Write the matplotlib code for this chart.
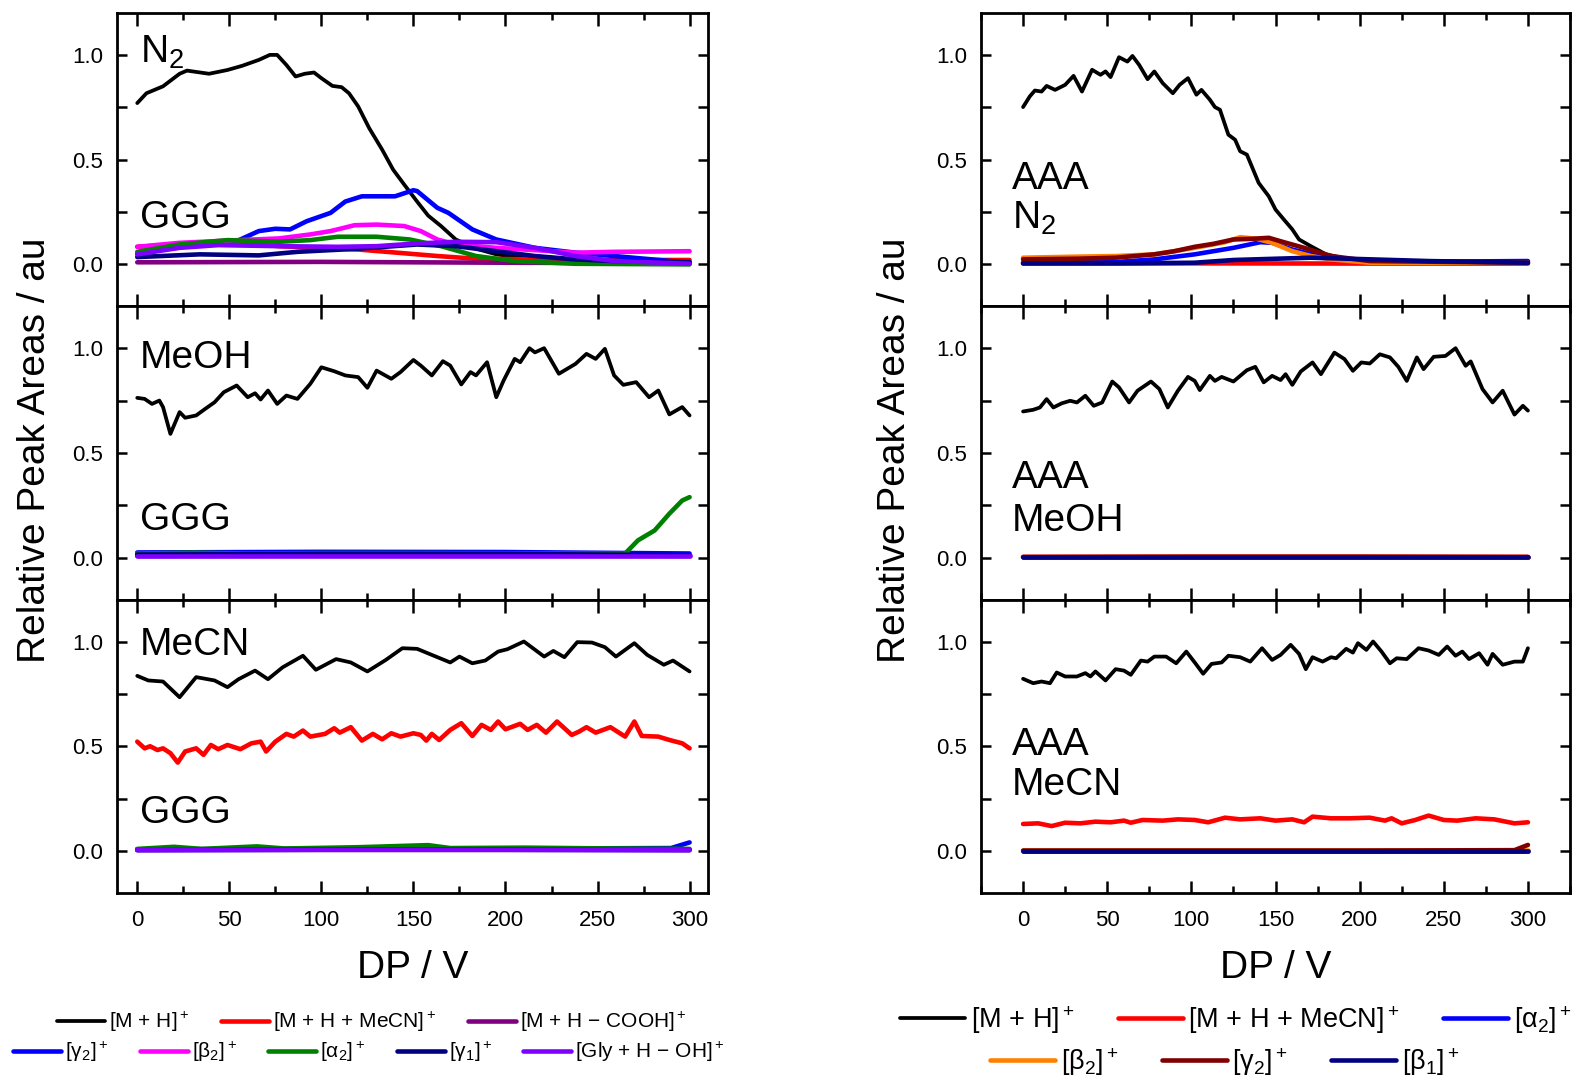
import numpy as np
import matplotlib
matplotlib.use("Agg")
import matplotlib.pyplot as plt
from matplotlib.ticker import MultipleLocator, FormatStrFormatter

plt.rcParams['font.family'] = ['Liberation Sans', 'DejaVu Sans']
plt.rcParams['mathtext.fontset'] = 'custom'
plt.rcParams['mathtext.rm'] = 'Liberation Sans'
plt.rcParams['mathtext.it'] = 'Liberation Sans:italic'
plt.rcParams['mathtext.bf'] = 'Liberation Sans:bold'

# ---------------- GGG, N2 ----------------
ggg_n2_mh_x = [0, 5, 14, 23, 27, 39, 49, 57, 66, 72, 76, 81, 86, 91, 96, 100, 106, 111, 115, 120,
               126, 133, 139, 145, 152, 158, 165, 173, 184, 195, 216, 238, 259, 300]
ggg_n2_mh_y = [0.77, 0.817, 0.85, 0.91, 0.925, 0.91, 0.928, 0.948, 0.976, 1.0, 1.0, 0.952, 0.897, 0.91,
               0.916, 0.889, 0.852, 0.846, 0.817, 0.754, 0.65, 0.548, 0.452, 0.381, 0.30, 0.233, 0.183,
               0.119, 0.075, 0.048, 0.024, 0.016, 0.011, 0.008]
ggg_n2_mecn_x = [0, 23, 55, 77, 98, 120, 141, 163, 184, 216, 259, 300]
ggg_n2_mecn_y = [0.084, 0.095, 0.103, 0.087, 0.079, 0.071, 0.056, 0.04, 0.027, 0.024, 0.021, 0.021]
ggg_n2_cooh_x = [0, 100, 200, 300]
ggg_n2_cooh_y = [0.01, 0.012, 0.008, 0.005]
ggg_n2_y2_x = [0, 20, 40, 55, 66, 75, 83, 92, 105, 113, 122, 130, 140, 150, 152, 163, 169, 182, 195,
               216, 238, 259, 300]
ggg_n2_y2_y = [0.05, 0.08, 0.10, 0.115, 0.159, 0.17, 0.167, 0.206, 0.246, 0.30, 0.325, 0.325, 0.325,
               0.354, 0.35, 0.27, 0.246, 0.167, 0.119, 0.079, 0.056, 0.04, 0.008]
ggg_n2_b2_x = [0, 23, 55, 77, 94, 105, 118, 130, 145, 154, 163, 173, 195, 216, 238, 259, 300]
ggg_n2_b2_y = [0.084, 0.103, 0.116, 0.124, 0.143, 0.159, 0.187, 0.19, 0.183, 0.159, 0.119, 0.095,
               0.079, 0.068, 0.056, 0.06, 0.063]
ggg_n2_a2_x = [0, 23, 49, 77, 94, 109, 130, 148, 165, 184, 205, 238, 300]
ggg_n2_a2_y = [0.06, 0.095, 0.116, 0.108, 0.116, 0.132, 0.132, 0.119, 0.087, 0.04, 0.016, 0.003, 0.0]
ggg_n2_y1_x = [0, 34, 66, 87, 120, 152, 173, 195, 216, 238, 259, 300]
ggg_n2_y1_y = [0.035, 0.048, 0.043, 0.06, 0.075, 0.095, 0.087, 0.063, 0.04, 0.024, 0.016, 0.011]
ggg_n2_gly_x = [0, 23, 44, 77, 109, 130, 152, 173, 195, 216, 238, 259, 300]
ggg_n2_gly_y = [0.048, 0.079, 0.092, 0.087, 0.084, 0.087, 0.10, 0.108, 0.106, 0.079, 0.04, 0.016, 0.003]

# ---------------- GGG, MeOH ----------------
ggg_meoh_mh_x = [0, 4, 8, 12, 14, 18, 23, 26, 32, 37, 42, 47, 54, 60, 64, 67, 71, 76, 81, 87, 94, 100,
                 107, 113, 120, 125, 130, 138, 143, 150, 154, 160, 166, 170, 176, 181, 184, 190, 195,
                 199, 205, 208, 213, 216, 221, 229, 238, 244, 249, 254, 259, 264, 271, 278, 283, 289,
                 296, 300]
ggg_meoh_mh_y = [0.763, 0.758, 0.734, 0.75, 0.719, 0.591, 0.695, 0.668, 0.679, 0.711, 0.742, 0.79,
                 0.822, 0.766, 0.785, 0.755, 0.798, 0.734, 0.774, 0.758, 0.83, 0.909, 0.89, 0.87,
                 0.862, 0.811, 0.893, 0.854, 0.886, 0.944, 0.917, 0.87, 0.938, 0.917, 0.827, 0.886,
                 0.87, 0.933, 0.766, 0.846, 0.949, 0.933, 1.0, 0.98, 1.0, 0.878, 0.925, 0.973, 0.949,
                 0.997, 0.87, 0.825, 0.838, 0.766, 0.798, 0.684, 0.719, 0.679]
ggg_meoh_mecn_x = [0, 100, 200, 300]
ggg_meoh_mecn_y = [0.012, 0.014, 0.012, 0.01]
ggg_meoh_cooh_x = [0, 100, 200, 300]
ggg_meoh_cooh_y = [0.008, 0.01, 0.01, 0.008]
ggg_meoh_y2_x = [0, 100, 200, 300]
ggg_meoh_y2_y = [0.025, 0.028, 0.027, 0.02]
ggg_meoh_b2_x = [0, 100, 200, 300]
ggg_meoh_b2_y = [0.012, 0.012, 0.012, 0.012]
ggg_meoh_a2_x = [0, 30, 60, 100, 150, 200, 250, 265, 272, 281, 289, 296, 300]
ggg_meoh_a2_y = [0.02, 0.024, 0.02, 0.022, 0.022, 0.021, 0.02, 0.02, 0.083, 0.13, 0.21, 0.273, 0.289]
ggg_meoh_y1_x = [0, 100, 200, 300]
ggg_meoh_y1_y = [0.015, 0.018, 0.018, 0.012]
ggg_meoh_gly_x = [0, 100, 200, 300]
ggg_meoh_gly_y = [0.006, 0.006, 0.006, 0.006]

# ---------------- GGG, MeCN ----------------
ggg_mecn_mh_x = [0, 6, 14, 23, 32, 42, 49, 55, 64, 71, 79, 90, 97, 108, 116, 125, 135, 144, 152, 160,
                 170, 175, 182, 189, 196, 201, 210, 221, 226, 232, 239, 247, 254, 260, 270, 277, 286,
                 291, 300]
ggg_mecn_mh_y = [0.836, 0.814, 0.809, 0.734, 0.83, 0.814, 0.782, 0.82, 0.861, 0.82, 0.877, 0.932,
                 0.865, 0.916, 0.9, 0.857, 0.912, 0.968, 0.965, 0.936, 0.9, 0.928, 0.896, 0.909, 0.952,
                 0.963, 1.0, 0.928, 0.955, 0.925, 0.997, 0.995, 0.973, 0.928, 0.992, 0.936, 0.889,
                 0.909, 0.857]
ggg_mecn_mecn_x = [0, 4, 7, 11, 14, 18, 22, 26, 32, 36, 40, 44, 49, 56, 62, 67, 70, 75, 81, 85, 90, 94,
                   102, 107, 110, 116, 122, 128, 133, 138, 143, 150, 154, 157, 160, 164, 170, 176, 182,
                   187, 192, 196, 200, 208, 212, 217, 222, 228, 236, 240, 244, 249, 257, 265, 270, 274,
                   283, 289, 296, 300]
ggg_mecn_mecn_y = [0.522, 0.49, 0.5, 0.482, 0.49, 0.467, 0.422, 0.475, 0.49, 0.459, 0.506, 0.486,
                   0.506, 0.486, 0.514, 0.522, 0.475, 0.522, 0.559, 0.546, 0.575, 0.546, 0.559, 0.586,
                   0.565, 0.591, 0.527, 0.559, 0.533, 0.562, 0.546, 0.562, 0.554, 0.527, 0.559, 0.53,
                   0.578, 0.61, 0.549, 0.602, 0.578, 0.618, 0.581, 0.607, 0.578, 0.602, 0.565, 0.618,
                   0.554, 0.57, 0.591, 0.565, 0.591, 0.546, 0.618, 0.549, 0.546, 0.53, 0.514, 0.49]
ggg_mecn_cooh_x = [0, 100, 200, 300]
ggg_mecn_cooh_y = [0.008, 0.01, 0.01, 0.008]
ggg_mecn_y2_x = [0, 150, 290, 300]
ggg_mecn_y2_y = [0.008, 0.01, 0.014, 0.041]
ggg_mecn_b2_x = [0, 100, 200, 300]
ggg_mecn_b2_y = [0.006, 0.008, 0.008, 0.006]
ggg_mecn_a2_x = [0, 20, 35, 65, 80, 120, 158, 170, 210, 260, 300]
ggg_mecn_a2_y = [0.01, 0.02, 0.01, 0.022, 0.012, 0.018, 0.028, 0.014, 0.016, 0.012, 0.01]
ggg_mecn_y1_x = [0, 100, 200, 300]
ggg_mecn_y1_y = [0.004, 0.006, 0.006, 0.004]
ggg_mecn_gly_x = [0, 100, 200, 300]
ggg_mecn_gly_y = [0.004, 0.005, 0.005, 0.004]

# ---------------- AAA, N2 ----------------
aaa_n2_mh_x = [0, 4, 7, 11, 14, 19, 25, 30, 35, 41, 46, 49, 52, 57, 62, 65, 69, 74, 78, 83, 89, 93,
               98, 103, 106, 111, 114, 117, 122, 126, 129, 133, 140, 146, 150, 155, 160, 164, 171,
               180, 194, 218, 300]
aaa_n2_mh_y = [0.751, 0.802, 0.83, 0.825, 0.852, 0.833, 0.857, 0.9, 0.825, 0.929, 0.905, 0.921,
               0.894, 0.989, 0.968, 0.995, 0.952, 0.884, 0.921, 0.865, 0.817, 0.857, 0.889, 0.81,
               0.833, 0.786, 0.751, 0.738, 0.619, 0.595, 0.54, 0.524, 0.389, 0.325, 0.262, 0.214,
               0.167, 0.119, 0.087, 0.048, 0.024, 0.013, 0.008]
aaa_n2_mecn_x = [0, 100, 200, 300]
aaa_n2_mecn_y = [0.004, 0.005, 0.004, 0.004]
aaa_n2_a2_x = [0, 55, 78, 102, 125, 141, 148, 160, 176, 194, 241, 300]
aaa_n2_a2_y = [0.008, 0.011, 0.024, 0.048, 0.079, 0.106, 0.103, 0.071, 0.04, 0.021, 0.013, 0.016]
aaa_n2_b2_x = [0, 32, 55, 78, 102, 120, 129, 139, 148, 160, 171, 183, 206, 300]
aaa_n2_b2_y = [0.032, 0.037, 0.04, 0.048, 0.079, 0.106, 0.13, 0.122, 0.103, 0.063, 0.04, 0.024,
               0.008, 0.008]
aaa_n2_y2_x = [0, 32, 55, 78, 90, 102, 113, 125, 136, 146, 155, 167, 183, 206, 300]
aaa_n2_y2_y = [0.024, 0.027, 0.032, 0.048, 0.063, 0.084, 0.098, 0.119, 0.122, 0.127, 0.106, 0.079,
               0.04, 0.016, 0.008]
aaa_n2_b1_x = [0, 55, 102, 125, 171, 194, 241, 300]
aaa_n2_b1_y = [0.005, 0.005, 0.008, 0.021, 0.032, 0.027, 0.016, 0.008]

# ---------------- AAA, MeOH ----------------
aaa_meoh_mh_x = [0, 6, 10, 14, 18, 23, 28, 32, 37, 42, 47, 53, 57, 63, 68, 76, 81, 86, 92, 98, 102,
                 105, 111, 114, 118, 125, 133, 138, 143, 148, 153, 156, 160, 165, 172, 177, 185, 191,
                 196, 201, 206, 212, 218, 223, 228, 234, 238, 244, 251, 257, 263, 266, 273, 279, 285,
                 292, 297, 300]
aaa_meoh_mh_y = [0.698, 0.706, 0.717, 0.757, 0.717, 0.737, 0.749, 0.741, 0.773, 0.725, 0.741, 0.841,
                 0.813, 0.741, 0.797, 0.841, 0.805, 0.717, 0.797, 0.863, 0.844, 0.8, 0.868, 0.844,
                 0.863, 0.841, 0.895, 0.911, 0.837, 0.868, 0.848, 0.876, 0.825, 0.889, 0.932, 0.876,
                 0.979, 0.948, 0.892, 0.932, 0.927, 0.971, 0.956, 0.911, 0.844, 0.956, 0.9, 0.959,
                 0.963, 1.0, 0.916, 0.937, 0.805, 0.741, 0.797, 0.683, 0.725, 0.702]
aaa_meoh_mecn_x = [0, 100, 200, 300]
aaa_meoh_mecn_y = [0.004, 0.005, 0.005, 0.004]
aaa_meoh_a2_x = [0, 100, 200, 300]
aaa_meoh_a2_y = [0.002, 0.002, 0.002, 0.002]
aaa_meoh_b2_x = [0, 100, 200, 300]
aaa_meoh_b2_y = [0.003, 0.003, 0.003, 0.003]
aaa_meoh_y2_x = [0, 100, 200, 300]
aaa_meoh_y2_y = [0.003, 0.004, 0.004, 0.003]
aaa_meoh_b1_x = [0, 100, 200, 300]
aaa_meoh_b1_y = [0.001, 0.001, 0.001, 0.001]

# ---------------- AAA, MeCN ----------------
aaa_mecn_mh_x = [0, 6, 11, 16, 20, 25, 32, 37, 40, 43, 49, 55, 60, 64, 70, 74, 78, 85, 91, 97, 102,
                 107, 112, 118, 122, 129, 135, 142, 148, 153, 159, 164, 168, 172, 178, 183, 186, 192,
                 196, 199, 204, 208, 213, 218, 222, 228, 235, 241, 247, 252, 257, 261, 265, 271, 276,
                 279, 285, 292, 297, 300]
aaa_mecn_mh_y = [0.822, 0.801, 0.809, 0.801, 0.852, 0.833, 0.833, 0.849, 0.833, 0.857, 0.814, 0.868,
                 0.861, 0.841, 0.909, 0.904, 0.928, 0.928, 0.896, 0.952, 0.9, 0.846, 0.893, 0.9,
                 0.932, 0.925, 0.904, 0.968, 0.912, 0.936, 0.984, 0.941, 0.868, 0.925, 0.904, 0.925,
                 0.92, 0.965, 0.947, 0.992, 0.96, 1.0, 0.952, 0.896, 0.92, 0.916, 0.968, 0.957, 0.936,
                 0.976, 0.932, 0.952, 0.916, 0.944, 0.889, 0.941, 0.889, 0.904, 0.904, 0.968]
aaa_mecn_mecn_x = [0, 9, 17, 25, 34, 43, 52, 60, 64, 71, 83, 92, 102, 110, 120, 129, 141, 150, 160,
                   167, 172, 183, 194, 206, 215, 219, 225, 233, 241, 250, 258, 269, 280, 292, 300]
aaa_mecn_mecn_y = [0.129, 0.132, 0.119, 0.135, 0.132, 0.14, 0.137, 0.145, 0.135, 0.148, 0.145, 0.151,
                   0.148, 0.137, 0.159, 0.151, 0.156, 0.145, 0.151, 0.137, 0.164, 0.156, 0.156, 0.159,
                   0.145, 0.156, 0.132, 0.148, 0.169, 0.148, 0.145, 0.156, 0.151, 0.132, 0.137]
aaa_mecn_a2_x = [0, 100, 200, 300]
aaa_mecn_a2_y = [0.001, 0.001, 0.001, 0.001]
aaa_mecn_b2_x = [0, 100, 200, 300]
aaa_mecn_b2_y = [0.003, 0.003, 0.003, 0.003]
aaa_mecn_y2_x = [0, 100, 200, 292, 300]
aaa_mecn_y2_y = [0.002, 0.002, 0.002, 0.004, 0.029]
aaa_mecn_b1_x = [0, 100, 200, 300]
aaa_mecn_b1_y = [0.0, 0.0, 0.0, 0.0]

# series styles (label, colour, linewidth)
ggg_styles = [
    ("[M + H]$^+$", "#000000", 2.7),
    ("[M + H + MeCN]$^+$", "#ff0000", 3.3),
    ("[M + H \u2212 COOH]$^+$", "#800080", 3.3),
    ("[\u03b3$_2$]$^+$", "#0000ff", 3.3),
    ("[\u03b2$_2$]$^+$", "#ff00ff", 3.3),
    ("[\u03b1$_2$]$^+$", "#008000", 3.3),
    ("[\u03b3$_1$]$^+$", "#000080", 3.3),
    ("[Gly + H \u2212 OH]$^+$", "#8000ff", 3.3),
]
aaa_styles = [
    ("[M + H]$^+$", "#000000", 2.7),
    ("[M + H + MeCN]$^+$", "#ff0000", 3.3),
    ("[\u03b1$_2$]$^+$", "#0000ff", 3.3),
    ("[\u03b2$_2$]$^+$", "#ff8000", 3.3),
    ("[\u03b3$_2$]$^+$", "#800000", 3.3),
    ("[\u03b2$_1$]$^+$", "#000080", 3.3),
]

ggg_panels = [
    [(ggg_n2_mh_x, ggg_n2_mh_y), (ggg_n2_mecn_x, ggg_n2_mecn_y), (ggg_n2_cooh_x, ggg_n2_cooh_y),
     (ggg_n2_y2_x, ggg_n2_y2_y), (ggg_n2_b2_x, ggg_n2_b2_y), (ggg_n2_a2_x, ggg_n2_a2_y),
     (ggg_n2_y1_x, ggg_n2_y1_y), (ggg_n2_gly_x, ggg_n2_gly_y)],
    [(ggg_meoh_mh_x, ggg_meoh_mh_y), (ggg_meoh_mecn_x, ggg_meoh_mecn_y), (ggg_meoh_cooh_x, ggg_meoh_cooh_y),
     (ggg_meoh_y2_x, ggg_meoh_y2_y), (ggg_meoh_b2_x, ggg_meoh_b2_y), (ggg_meoh_a2_x, ggg_meoh_a2_y),
     (ggg_meoh_y1_x, ggg_meoh_y1_y), (ggg_meoh_gly_x, ggg_meoh_gly_y)],
    [(ggg_mecn_mh_x, ggg_mecn_mh_y), (ggg_mecn_mecn_x, ggg_mecn_mecn_y), (ggg_mecn_cooh_x, ggg_mecn_cooh_y),
     (ggg_mecn_y2_x, ggg_mecn_y2_y), (ggg_mecn_b2_x, ggg_mecn_b2_y), (ggg_mecn_a2_x, ggg_mecn_a2_y),
     (ggg_mecn_y1_x, ggg_mecn_y1_y), (ggg_mecn_gly_x, ggg_mecn_gly_y)],
]
aaa_panels = [
    [(aaa_n2_mh_x, aaa_n2_mh_y), (aaa_n2_mecn_x, aaa_n2_mecn_y), (aaa_n2_a2_x, aaa_n2_a2_y),
     (aaa_n2_b2_x, aaa_n2_b2_y), (aaa_n2_y2_x, aaa_n2_y2_y), (aaa_n2_b1_x, aaa_n2_b1_y)],
    [(aaa_meoh_mh_x, aaa_meoh_mh_y), (aaa_meoh_mecn_x, aaa_meoh_mecn_y), (aaa_meoh_a2_x, aaa_meoh_a2_y),
     (aaa_meoh_b2_x, aaa_meoh_b2_y), (aaa_meoh_y2_x, aaa_meoh_y2_y), (aaa_meoh_b1_x, aaa_meoh_b1_y)],
    [(aaa_mecn_mh_x, aaa_mecn_mh_y), (aaa_mecn_mecn_x, aaa_mecn_mecn_y), (aaa_mecn_a2_x, aaa_mecn_a2_y),
     (aaa_mecn_b2_x, aaa_mecn_b2_y), (aaa_mecn_y2_x, aaa_mecn_y2_y), (aaa_mecn_b1_x, aaa_mecn_b1_y)],
]

W, H = 1573, 1086
fig = plt.figure(figsize=(W / 100, H / 100), dpi=100)

col_left = [117 / W, 981 / W]
col_width = [591 / W, 589 / W]
panel_h = 293.3 / H
top = 1 - 13 / H
xlims = [(-11, 310), (-25, 325)]

label_fs = 28


def style_axis(ax, xlim, bottom):
    ax.set_xlim(*xlim)
    ax.set_ylim(-0.2, 1.2)
    ax.xaxis.set_major_locator(MultipleLocator(50))
    ax.xaxis.set_minor_locator(MultipleLocator(25))
    ax.yaxis.set_major_locator(MultipleLocator(0.5))
    ax.yaxis.set_minor_locator(MultipleLocator(0.25))
    ax.yaxis.set_major_formatter(FormatStrFormatter('%.1f'))
    ax.tick_params(axis='both', which='both', direction='in', top=True, right=True, width=1.8,
                   labelsize=16)
    ax.tick_params(axis='x', which='major', length=9, pad=12)
    ax.tick_params(axis='x', which='minor', length=5)
    ax.tick_params(axis='y', which='both', length=7, pad=10)
    for sp in ax.spines.values():
        sp.set_linewidth(2.0)
    if not bottom:
        ax.tick_params(axis='x', labelbottom=False)


all_axes = []
for col, (panels, styles) in enumerate([(ggg_panels, ggg_styles), (aaa_panels, aaa_styles)]):
    col_axes = []
    for row, series in enumerate(panels):
        ax = fig.add_axes([col_left[col], top - (row + 1) * panel_h, col_width[col], panel_h])
        style_axis(ax, xlims[col], row == 2)
        for (x, y), (lab, c, lw) in zip(series, styles):
            ax.plot(x, y, color=c, lw=lw, label=lab, solid_capstyle='round',
                    solid_joinstyle='round')
        col_axes.append(ax)
    all_axes.append(col_axes)

# panel annotations
g = all_axes[0]
g[0].text(0.039, 0.83, "N$_2$", transform=g[0].transAxes, fontsize=label_fs, va='baseline')
g[0].text(0.039, 0.266, "GGG", transform=g[0].transAxes, fontsize=label_fs, va='baseline')
g[1].text(0.039, 0.79, "MeOH", transform=g[1].transAxes, fontsize=label_fs, va='baseline')
g[1].text(0.039, 0.239, "GGG", transform=g[1].transAxes, fontsize=label_fs, va='baseline')
g[2].text(0.039, 0.81, "MeCN", transform=g[2].transAxes, fontsize=label_fs, va='baseline')
g[2].text(0.039, 0.239, "GGG", transform=g[2].transAxes, fontsize=label_fs, va='baseline')

a = all_axes[1]
a[0].text(0.053, 0.40, "AAA", transform=a[0].transAxes, fontsize=label_fs, va='baseline')
a[0].text(0.053, 0.266, "N$_2$", transform=a[0].transAxes, fontsize=label_fs, va='baseline')
a[1].text(0.053, 0.379, "AAA", transform=a[1].transAxes, fontsize=label_fs, va='baseline')
a[1].text(0.053, 0.235, "MeOH", transform=a[1].transAxes, fontsize=label_fs, va='baseline')
a[2].text(0.053, 0.471, "AAA", transform=a[2].transAxes, fontsize=label_fs, va='baseline')
a[2].text(0.053, 0.334, "MeCN", transform=a[2].transAxes, fontsize=label_fs, va='baseline')

# axis titles
for col_axes in all_axes:
    col_axes[2].set_xlabel("DP / V", fontsize=label_fs, labelpad=14)
fig.text(35 / W, 1 - 450 / H, "Relative Peak Areas / au", rotation=90, fontsize=label_fs,
         ha='center', va='center')
fig.text(895 / W, 1 - 450 / H, "Relative Peak Areas / au", rotation=90, fontsize=label_fs,
         ha='center', va='center')

# legends, laid out in centred rows
h, l = all_axes[0][0].get_legend_handles_labels()
lkw = dict(loc='center', frameon=False, handletextpad=0.2, columnspacing=1.5, borderpad=0,
           borderaxespad=0)
fig.legend(h[:3], l[:3], ncol=3, bbox_to_anchor=(372 / W, 1 - 1022 / H), fontsize=15,
           handlelength=2.3, **lkw)
fig.legend(h[3:], l[3:], ncol=5, bbox_to_anchor=(369 / W, 1 - 1052 / H), fontsize=15,
           handlelength=2.3, **lkw)

h, l = all_axes[1][0].get_legend_handles_labels()
lkw['columnspacing'] = 1.6
fig.legend(h[:3], l[:3], ncol=3, bbox_to_anchor=(1236 / W, 1 - 1020 / H), fontsize=19.5,
           handlelength=2.4, **lkw)
fig.legend(h[3:], l[3:], ncol=3, bbox_to_anchor=(1225 / W, 1 - 1062 / H), fontsize=19.5,
           handlelength=2.4, **lkw)

fig.savefig("out.png", dpi=100)
